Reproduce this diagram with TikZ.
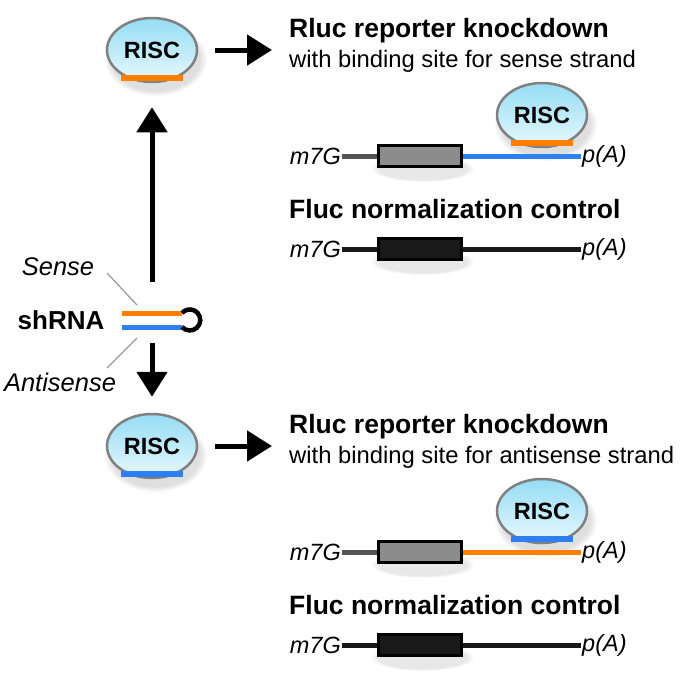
\documentclass[tikz,border=0pt]{standalone}
\usepackage{fontspec}
\setmainfont{Liberation Sans}
\usetikzlibrary{arrows.meta,shapes.geometric,shadows}
\definecolor{rnaorange}{HTML}{FF7F00}
\definecolor{rnablue}{HTML}{2E80F2}
\definecolor{risctop}{HTML}{95DDF5}
\definecolor{riscbottom}{HTML}{E8F8FC}

\begin{document}
\begin{tikzpicture}[x=1pt,y=-1pt,
    risc/.style={ellipse,draw=gray,line width=2.5pt,top color=risctop,bottom color=riscbottom,
        minimum width=90pt,minimum height=64pt,inner sep=0pt,font=\fontsize{23.5}{26}\selectfont\bfseries,
        circular drop shadow={shadow xshift=3pt,shadow yshift=-8pt,shadow scale=1.15,opacity=0.25}},
    bigarrow/.style={line width=5pt,-{Triangle[length=25pt,width=30pt]}},
    gene/.style={draw,line width=3pt,minimum width=83pt,minimum height=21pt,inner sep=0pt,
        circular drop shadow={shadow xshift=2pt,shadow yshift=-10pt,shadow scale=1.25,opacity=0.18}},
    rnalbl/.style={font=\fontsize{23.5}{26}\selectfont\itshape,inner sep=1pt},
    strandlbl/.style={font=\fontsize{25.5}{28}\selectfont\itshape,inner sep=0pt},
    mrna/.style={line width=5pt},
    site/.style={line width=6pt},
    heading/.style={anchor=base west,inner sep=0pt,font=\fontsize{26.5}{30}\selectfont\bfseries},
    subline/.style={anchor=base west,inner sep=0pt,font=\fontsize{23.8}{26}\selectfont},
    pointer/.style={black!40,line width=1.2pt}]
    \useasboundingbox (0,0) rectangle (680,678);
    \foreach \dy/\sitecol/\linecol/\word/\n in {0/rnaorange/rnablue/sense/a,396/rnablue/rnaorange/antisense/b}{
        \node[risc] (free\n) at (152,50+\dy) {RISC};
        \draw[site,\sitecol] ([xshift=-31pt,yshift=5pt]free\n.south) -- ([xshift=31pt,yshift=5pt]free\n.south);
        \coordinate (tip\n) at (272,50+\dy);
        \draw[bigarrow,shorten <=17pt] (free\n) -- (tip\n);
        \node[heading] (rluc\n) at (289,37+\dy) {Rluc reporter knockdown};
        \node[subline] (with\n) at (289,67+\dy) {with binding site for \word\ strand};
        \node[gene,fill=black!45] (rgene\n) at (420,156+\dy) {};
        \node[rnalbl,anchor=east] (rcap\n) at (342,156+\dy) {m7G};
        \node[rnalbl,anchor=west] (rpa\n) at (581,156+\dy) {p(A)};
        \node[risc] (bound\n) at (542,115+\dy) {RISC};
        \draw[site,\sitecol] ([xshift=-31pt,yshift=5pt]bound\n.south) -- ([xshift=31pt,yshift=5pt]bound\n.south);
        \draw[mrna,black!67] (rcap\n) -- (rgene\n);
        \draw[mrna,\linecol] (rgene\n) -- (rpa\n);
        \node[heading] (fluc\n) at (289,218+\dy) {Fluc normalization control};
        \node[gene,fill=black!90] (fgene\n) at (420,249+\dy) {};
        \node[rnalbl,anchor=east] (fcap\n) at (342,249+\dy) {m7G};
        \node[rnalbl,anchor=west] (fpa\n) at (581,249+\dy) {p(A)};
        \draw[mrna,black!90] (fcap\n) -- (fgene\n) -- (fpa\n);
    }
    \node[strandlbl] (sense) at (58,267) {Sense};
    \node[font=\fontsize{26}{28}\selectfont\bfseries,inner sep=0pt] (shrna) at (61,320) {shRNA};
    \node[strandlbl] (antisense) at (60,382) {Antisense};
    \coordinate (senseL) at (122,313);
    \coordinate (senseR) at (182,313);
    \coordinate (antiL) at (122,327);
    \coordinate (antiR) at (182,327);
    \draw[mrna,rnaorange] (senseL) -- (senseR);
    \draw[mrna,rnablue] (antiL) -- (antiR);
    \draw[line width=4.5pt] (antiR) arc[start angle=138,end angle=-138,radius=10.5];
    \coordinate (sensefrom) at (107,273);
    \coordinate (senseto) at (137,305);
    \coordinate (antifrom) at (107,368);
    \coordinate (antito) at (137,338);
    \draw[pointer] (sensefrom) -- (senseto);
    \draw[pointer] (antifrom) -- (antito);
    \coordinate (upfrom) at (152,282);
    \coordinate (downfrom) at (152,343);
    \draw[bigarrow,shorten >=24pt] (upfrom) -- (freea);
    \draw[bigarrow,shorten >=16pt] (downfrom) -- (freeb);
\end{tikzpicture}
\end{document}
